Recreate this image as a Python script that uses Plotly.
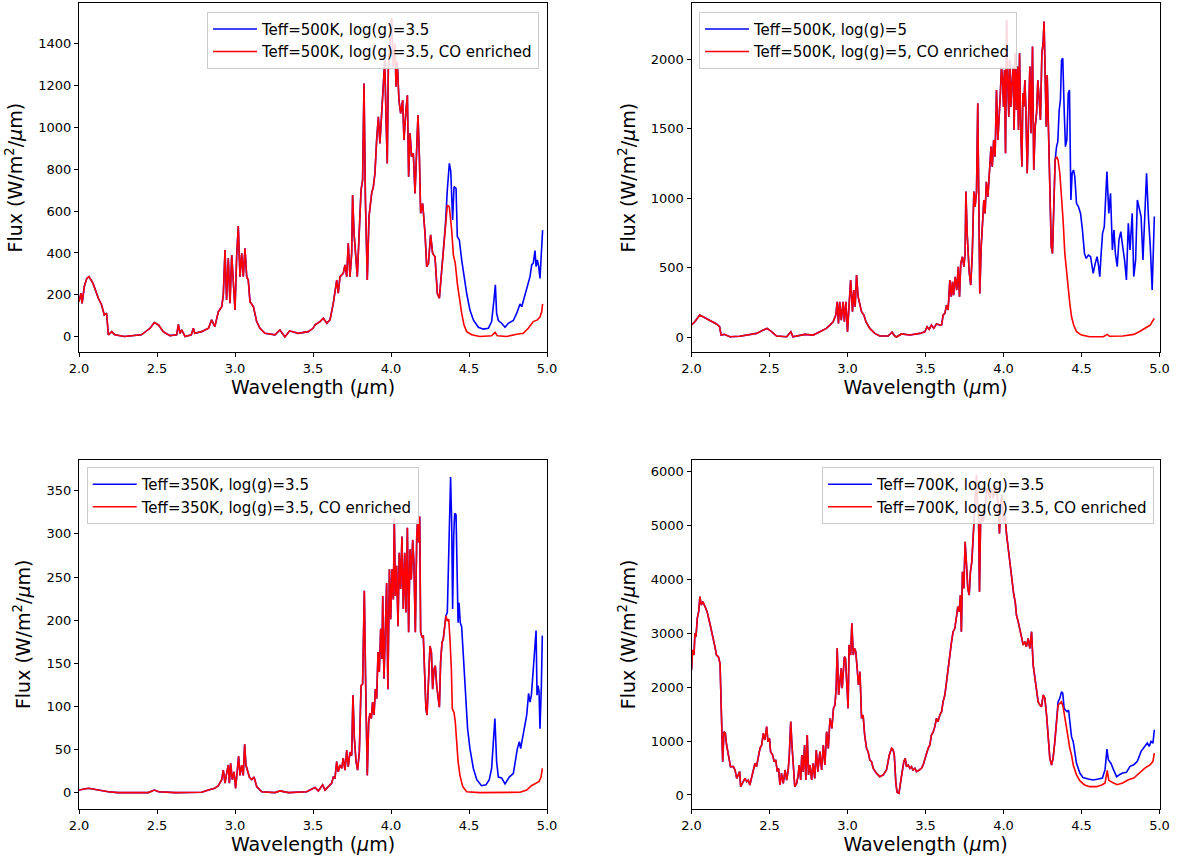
import plotly.graph_objects as go

# ---------------- Panel A: Teff=500K, log(g)=3.5 ----------------
wl_a = [2.000, 2.013, 2.020, 2.034, 2.050, 2.064, 2.090, 2.124, 2.145, 2.162, 2.177, 2.188, 2.210, 2.230,
        2.290, 2.400, 2.455, 2.483, 2.510, 2.540, 2.583, 2.626, 2.637, 2.647, 2.658, 2.680, 2.720, 2.733,
        2.742, 2.786, 2.830, 2.850, 2.871, 2.893, 2.915, 2.925, 2.936, 2.946, 2.957, 2.968, 2.979, 2.989,
        3.000, 3.011, 3.021, 3.032, 3.043, 3.053, 3.064, 3.075, 3.085, 3.096, 3.118, 3.139, 3.160, 3.192,
        3.256, 3.288, 3.310, 3.320, 3.350, 3.405, 3.470, 3.500, 3.513, 3.545, 3.566, 3.588, 3.609, 3.630,
        3.652, 3.662, 3.673, 3.694, 3.705, 3.716, 3.726, 3.737, 3.748, 3.754, 3.763, 3.776, 3.784, 3.797,
        3.808, 3.818, 3.827, 3.836, 3.848, 3.859, 3.870, 3.876, 3.887, 3.897, 3.908, 3.919, 3.929, 3.940,
        3.950, 3.960, 3.968, 3.976, 3.983, 3.994, 4.004, 4.015, 4.026, 4.032, 4.040, 4.051, 4.062, 4.075,
        4.083, 4.096, 4.105, 4.113, 4.122, 4.132, 4.143, 4.154, 4.165, 4.173, 4.182, 4.190, 4.203, 4.218,
        4.229, 4.240, 4.254, 4.267, 4.282, 4.297, 4.310, 4.323, 4.335, 4.348]
flux_a = [168, 208, 160, 240, 279, 287, 255, 184, 152, 105, 113, 10, 25, 10,
          2, 10, 41, 68, 57, 25, 6, 10, 60, 17, 33, 2, 10, 41,
          17, 25, 41, 81, 49, 120, 144, 200, 414, 176, 375, 160, 390, 240,
          128, 390, 528, 287, 398, 287, 422, 287, 271, 168, 144, 73, 41, 17,
          10, 33, 10, 0, 29, 17, 25, 41, 57, 73, 89, 65, 81, 160,
          271, 208, 287, 303, 343, 287, 446, 287, 398, 676, 494, 367, 287, 509,
          700, 747, 1208, 652, 271, 573, 652, 684, 716, 779, 938, 1049, 922, 1081,
          1192, 1319, 1049, 827, 1287, 1430, 1520, 1287, 1398, 1192, 1311, 1128, 1065, 1128,
          938, 1081, 1152, 763, 970, 859, 875, 684, 970, 1057, 859, 589, 636, 494,
          335, 351, 486, 398, 382, 208, 184, 303, 398, 525]
wl_a_base_tail = [4.361, 4.374, 4.383, 4.395, 4.404, 4.417, 4.425, 4.438, 4.453, 4.468, 4.485, 4.506, 4.528,
                  4.560, 4.592, 4.624, 4.645, 4.660, 4.669, 4.677, 4.688, 4.709, 4.731, 4.752, 4.784, 4.806,
                  4.827, 4.838, 4.853, 4.870, 4.891, 4.902, 4.912, 4.923, 4.930, 4.938, 4.947, 4.955, 4.964, 4.972]
flux_a_base_tail = [700, 827, 790, 557, 716, 708, 478, 462, 367, 287, 208, 128, 81,
                    46, 37, 41, 73, 176, 248, 113, 78, 65, 46, 65, 78, 113,
                    157, 144, 184, 240, 287, 343, 351, 411, 335, 367, 335, 279, 398, 509]
wl_a_co_tail = [4.361, 4.374, 4.389, 4.400, 4.412, 4.425, 4.438, 4.453, 4.468, 4.485, 4.517, 4.570, 4.645,
                4.667, 4.682, 4.741, 4.806, 4.848, 4.880, 4.912, 4.938, 4.955, 4.966, 4.972]
flux_a_co_tail = [628, 620, 509, 390, 351, 255, 176, 113, 57, 25, 10, 2, 5,
                  22, 5, 2, 13, 17, 41, 73, 81, 94, 121, 157]

# ---------------- Panel B: Teff=500K, log(g)=5 ----------------
wl_b = [2.000, 2.021, 2.053, 2.075, 2.118, 2.160, 2.180, 2.190, 2.210, 2.246, 2.310, 2.417, 2.460, 2.485,
        2.513, 2.545, 2.610, 2.637, 2.650, 2.726, 2.780, 2.820, 2.865, 2.887, 2.908, 2.925, 2.934, 2.942,
        2.950, 2.960, 2.972, 2.980, 2.990, 3.000, 3.010, 3.020, 3.032, 3.040, 3.049, 3.058, 3.068, 3.079,
        3.090, 3.105, 3.118, 3.143, 3.175, 3.207, 3.260, 3.286, 3.303, 3.314, 3.346, 3.400, 3.464, 3.496,
        3.510, 3.524, 3.538, 3.553, 3.570, 3.592, 3.603, 3.613, 3.624, 3.635, 3.645, 3.656, 3.665, 3.673,
        3.680, 3.690, 3.700, 3.710, 3.718, 3.726, 3.737, 3.746, 3.754, 3.759, 3.767, 3.780, 3.790, 3.800,
        3.810, 3.818, 3.827, 3.835, 3.842, 3.848, 3.857, 3.865, 3.874, 3.882, 3.890, 3.900, 3.912, 3.920,
        3.928, 3.937, 3.946, 3.955, 3.964, 3.972, 3.980, 3.987, 3.994, 4.000, 4.006, 4.013, 4.020, 4.026,
        4.034, 4.040, 4.047, 4.053, 4.062, 4.068, 4.075, 4.083, 4.090, 4.096, 4.103, 4.109, 4.118, 4.124,
        4.130, 4.137, 4.143, 4.152, 4.160, 4.169, 4.177, 4.186, 4.194, 4.203, 4.212, 4.220, 4.229, 4.237,
        4.246, 4.254, 4.260, 4.267, 4.274, 4.280, 4.288, 4.297, 4.306, 4.314, 4.323, 4.331]
flux_b = [86, 110, 158, 146, 122, 94, 74, 14, 19, 2, 5, 26, 50, 62,
          38, 7, 2, 38, 2, 19, 14, 38, 62, 86, 110, 158, 254, 98,
          254, 122, 254, 110, 254, 38, 218, 410, 182, 338, 218, 446, 290, 242,
          182, 158, 110, 62, 26, 7, 7, 34, 7, 0, 22, 14, 26, 38,
          74, 55, 86, 62, 94, 86, 86, 158, 170, 230, 194, 410, 290, 398,
          302, 434, 338, 506, 290, 530, 578, 506, 602, 1047, 746, 470, 374, 602,
          1047, 938, 1047, 1683, 1083, 314, 650, 866, 986, 890, 1118, 1010, 1275, 1371,
          1227, 1419, 1299, 1779, 1419, 1563, 1755, 1947, 1851, 1659, 1923, 1323, 2283, 1899,
          1587, 1995, 1659, 1803, 1947, 1491, 2043, 1635, 1947, 1491, 2043, 1563, 1227, 1755,
          1659, 1851, 1659, 1179, 1659, 1947, 1467, 2091, 1203, 1515, 1611, 1851, 1707, 1563,
          2043, 2115, 2271, 1947, 1515, 1887, 1467, 987, 650, 602, 939, 1275]
wl_b_base_tail = [4.340, 4.348, 4.357, 4.365, 4.372, 4.380, 4.389, 4.397, 4.406, 4.415, 4.423, 4.432, 4.440,
                  4.449, 4.457, 4.468, 4.480, 4.494, 4.506, 4.519, 4.530, 4.545, 4.558, 4.566, 4.575, 4.588,
                  4.600, 4.610, 4.617, 4.626, 4.635, 4.646, 4.663, 4.675, 4.686, 4.698, 4.708, 4.717, 4.729,
                  4.740, 4.752, 4.764, 4.776, 4.788, 4.800, 4.811, 4.825, 4.835, 4.847, 4.858, 4.870, 4.882,
                  4.894, 4.906, 4.917, 4.929, 4.941, 4.953, 4.960, 4.967]
flux_b_base_tail = [1371, 1407, 1635, 1707, 1995, 2007, 1635, 1371, 1419, 1755, 1779, 987, 1179,
                    1203, 1155, 963, 939, 890, 770, 602, 566, 590, 578, 530, 458, 530,
                    578, 506, 434, 602, 746, 795, 1191, 890, 1035, 627, 771, 603, 507,
                    699, 759, 651, 555, 411, 819, 627, 891, 435, 555, 987, 915, 867,
                    555, 891, 1179, 867, 651, 339, 603, 867]
wl_b_co_tail = [4.340, 4.350, 4.361, 4.372, 4.382, 4.393, 4.404, 4.415, 4.425, 4.436, 4.450, 4.468, 4.500,
                4.553, 4.640, 4.665, 4.680, 4.764, 4.835, 4.870, 4.906, 4.941, 4.953, 4.967]
flux_b_co_tail = [1299, 1275, 1179, 1035, 843, 602, 458, 338, 242, 146, 86, 38, 14,
                  2, 2, 19, 5, 7, 19, 38, 62, 86, 110, 134]

# ---------------- Panel C: Teff=350K, log(g)=3.5 ----------------
wl_c = [2.000, 2.060, 2.124, 2.188, 2.250, 2.444, 2.483, 2.510, 2.615, 2.786, 2.830, 2.870, 2.893, 2.915,
        2.925, 2.936, 2.946, 2.957, 2.964, 2.972, 2.983, 2.994, 3.004, 3.015, 3.023, 3.032, 3.043, 3.053,
        3.062, 3.070, 3.081, 3.092, 3.107, 3.122, 3.139, 3.171, 3.256, 3.288, 3.342, 3.460, 3.480, 3.513,
        3.534, 3.562, 3.577, 3.598, 3.620, 3.630, 3.641, 3.652, 3.662, 3.673, 3.684, 3.694, 3.705, 3.716,
        3.726, 3.737, 3.748, 3.756, 3.765, 3.776, 3.786, 3.797, 3.808, 3.818, 3.829, 3.838, 3.848, 3.857,
        3.865, 3.874, 3.882, 3.891, 3.900, 3.908, 3.917, 3.925, 3.934, 3.942, 3.947, 3.955, 3.964, 3.972,
        3.980, 3.990, 3.998, 4.006, 4.015, 4.021, 4.028, 4.036, 4.045, 4.053, 4.062, 4.070, 4.079, 4.088,
        4.096, 4.105, 4.113, 4.122, 4.130, 4.139, 4.147, 4.156, 4.165, 4.171, 4.177, 4.184, 4.190, 4.199,
        4.207, 4.216, 4.224, 4.231, 4.241, 4.250, 4.259, 4.267, 4.276, 4.284, 4.293, 4.303, 4.310, 4.318,
        4.327, 4.335, 4.344, 4.352]
flux_c = [3, 5, 3, 1, 0, 0, 3, 1, 0, 0.5, 3, 5, 8, 15,
          26, 11, 22, 32, 11, 34, 15, 24, 5, 26, 42, 20, 32, 20,
          56, 32, 26, 18, 15, 18, 7, 1, 0, 2, 0, 1, 3, 6,
          2, 9, 3, 7, 11, 18, 17, 36, 24, 32, 28, 40, 26, 49,
          30, 47, 43, 113, 63, 36, 26, 47, 124, 126, 234, 120, 20, 82,
          92, 86, 105, 90, 120, 109, 163, 140, 190, 155, 228, 132, 197, 243,
          120, 259, 201, 259, 224, 318, 228, 263, 193, 278, 236, 297, 213, 278,
          209, 307, 186, 282, 247, 293, 266, 186, 297, 317, 290, 320, 186, 180,
          182, 136, 97, 90, 128, 170, 163, 120, 143, 147, 124, 105, 99, 151,
          174, 178, 197, 205]
wl_c_base_tail = [4.361, 4.370, 4.376, 4.382, 4.389, 4.395, 4.402, 4.408, 4.417, 4.423, 4.430, 4.436, 4.444,
                  4.453, 4.464, 4.472, 4.481, 4.491, 4.506, 4.528, 4.550, 4.580, 4.609, 4.630, 4.645, 4.656,
                  4.666, 4.677, 4.688, 4.709, 4.731, 4.758, 4.784, 4.810, 4.823, 4.831, 4.848, 4.870, 4.882,
                  4.891, 4.900, 4.912, 4.921, 4.930, 4.936, 4.942, 4.949, 4.955, 4.964, 4.970]
flux_c_base_tail = [209, 293, 343, 366, 313, 213, 297, 324, 322, 263, 197, 220, 197,
                    192, 159, 140, 101, 74, 51, 28, 15, 8, 9, 15, 28, 55,
                    86, 36, 18, 17, 10, 18, 22, 51, 59, 51, 70, 90, 115,
                    105, 113, 143, 167, 188, 113, 124, 117, 74, 124, 182]
wl_c_co_tail = [4.361, 4.370, 4.378, 4.387, 4.393, 4.404, 4.412, 4.420, 4.430, 4.442, 4.460, 4.485, 4.570,
                4.827, 4.870, 4.900, 4.934, 4.950, 4.962, 4.970]
flux_c_co_tail = [199, 201, 178, 143, 97, 93, 82, 55, 36, 20, 7, 1, 0,
                  0.4, 3, 8, 11, 13, 18, 28]

# ---------------- Panel D: Teff=700K, log(g)=3.5 ----------------
wl_d = [2.000, 2.007, 2.016, 2.022, 2.029, 2.037, 2.046, 2.054, 2.063, 2.072, 2.087, 2.100, 2.120, 2.136,
        2.150, 2.160, 2.172, 2.183, 2.190, 2.200, 2.208, 2.217, 2.225, 2.238, 2.250, 2.268, 2.279, 2.290,
        2.300, 2.309, 2.315, 2.328, 2.343, 2.354, 2.364, 2.374, 2.385, 2.396, 2.407, 2.417, 2.428, 2.439,
        2.450, 2.460, 2.470, 2.482, 2.490, 2.500, 2.507, 2.520, 2.530, 2.540, 2.550, 2.558, 2.567, 2.577,
        2.588, 2.600, 2.610, 2.620, 2.627, 2.636, 2.644, 2.653, 2.662, 2.674, 2.684, 2.690, 2.700, 2.707,
        2.716, 2.725, 2.733, 2.742, 2.750, 2.760, 2.770, 2.780, 2.790, 2.800, 2.810, 2.823, 2.834, 2.845,
        2.855, 2.866, 2.877, 2.888, 2.900, 2.910, 2.920, 2.928, 2.934, 2.943, 2.952, 2.960, 2.966, 2.972,
        2.980, 2.987, 2.994, 3.004, 3.010, 3.020, 3.028, 3.037, 3.045, 3.053, 3.062, 3.070, 3.080, 3.090,
        3.100, 3.110, 3.122, 3.132, 3.143, 3.154, 3.165, 3.186, 3.207, 3.229, 3.250, 3.268, 3.283, 3.293,
        3.300, 3.310, 3.318, 3.330, 3.344, 3.353, 3.361, 3.370, 3.378, 3.389, 3.400, 3.410, 3.420, 3.432,
        3.442, 3.460, 3.474, 3.485, 3.496, 3.506, 3.517, 3.528, 3.538, 3.550, 3.560, 3.570, 3.580, 3.592,
        3.603, 3.613, 3.624, 3.635, 3.645, 3.656, 3.667, 3.677, 3.688, 3.700, 3.707, 3.716, 3.724, 3.730,
        3.737, 3.746, 3.754, 3.763, 3.771, 3.780, 3.788, 3.797, 3.805, 3.814, 3.820, 3.827, 3.833, 3.840,
        3.846, 3.853, 3.860, 3.870, 3.878, 3.887, 3.895, 3.904, 3.912, 3.923, 3.934, 3.944, 3.955, 3.966,
        3.974, 3.983, 3.990, 4.000, 4.009, 4.020, 4.030, 4.040, 4.050, 4.058, 4.066, 4.075, 4.083, 4.094,
        4.105, 4.115, 4.126, 4.137, 4.147, 4.158, 4.169, 4.180, 4.190, 4.200, 4.210, 4.222, 4.233, 4.244,
        4.254, 4.265, 4.276, 4.286, 4.297, 4.308, 4.318, 4.329, 4.340]
flux_d = [2320, 2691, 2598, 3000, 2938, 3279, 3402, 3681, 3526, 3588, 3495, 3402, 3155, 2969,
          2753, 2598, 2567, 2443, 1856, 619, 1175, 1144, 928, 711, 526, 526, 464, 309,
          371, 433, 155, 216, 309, 247, 278, 186, 340, 495, 588, 526, 711, 866,
          928, 1144, 1021, 1268, 990, 1052, 804, 742, 619, 650, 433, 495, 186, 402,
          216, 464, 278, 464, 742, 1361, 928, 526, 155, 216, 371, 557, 278, 742,
          433, 928, 278, 1113, 371, 557, 278, 588, 309, 835, 433, 804, 464, 928,
          557, 1175, 866, 1423, 1237, 1608, 1670, 2041, 2722, 1856, 2103, 2351, 1980, 2351,
          2567, 2536, 2041, 1608, 2784, 2598, 3186, 2598, 2722, 2660, 2351, 2041, 2289, 1423,
          1485, 1113, 866, 804, 650, 619, 495, 402, 340, 371, 464, 742, 866, 835,
          742, 216, 50, 31, 309, 526, 619, 680, 526, 557, 495, 526, 464, 495,
          433, 464, 495, 557, 680, 742, 866, 928, 1113, 1175, 1268, 1423, 1361, 1485,
          1546, 1732, 1856, 2103, 2351, 2660, 2846, 3031, 3093, 3340, 3495, 3402, 3712, 3031,
          4144, 3835, 4701, 4268, 3835, 3712, 4144, 4330, 4763, 5072, 5444, 5939, 5382, 5196,
          3773, 5072, 5196, 5072, 5258, 5505, 5691, 5629, 5505, 5691, 5505, 5753, 5691, 5382,
          4856, 5444, 5567, 5072, 5196, 4825, 4578, 4330, 4176, 3959, 3712, 3588, 3340, 3217,
          3031, 2938, 2784, 2846, 2753, 2907, 2722, 3031, 2413, 2227, 1980, 1732, 1670, 1639,
          1856, 1794, 1485, 990, 680, 557, 680, 990, 1423]
wl_d_base_tail = [4.350, 4.361, 4.372, 4.380, 4.389, 4.397, 4.408, 4.417, 4.425, 4.436, 4.447, 4.457, 4.468,
                  4.490, 4.510, 4.543, 4.575, 4.607, 4.634, 4.651, 4.663, 4.672, 4.690, 4.705, 4.725, 4.745,
                  4.764, 4.788, 4.811, 4.835, 4.858, 4.882, 4.906, 4.922, 4.934, 4.946, 4.958, 4.967]
flux_d_base_tail = [1730, 1794, 1918, 1887, 1608, 1577, 1546, 1577, 1361, 1083, 990, 742, 588,
                    402, 322, 297, 278, 297, 315, 470, 853, 655, 580, 470, 340, 380,
                    408, 420, 531, 562, 624, 810, 902, 964, 902, 995, 964, 1211]
wl_d_co_tail = [4.350, 4.361, 4.372, 4.382, 4.393, 4.404, 4.415, 4.425, 4.436, 4.447, 4.468, 4.490, 4.520,
                4.553, 4.596, 4.634, 4.651, 4.665, 4.675, 4.705, 4.729, 4.764, 4.800, 4.835, 4.870, 4.906,
                4.941, 4.958, 4.967]
flux_d_co_tail = [1670, 1701, 1732, 1639, 1423, 1175, 1052, 866, 742, 557, 371, 260, 186,
                  155, 155, 192, 222, 457, 272, 222, 192, 222, 284, 315, 408, 500,
                  562, 624, 779]

# ---------------- labels / ticks ----------------
labels_base = ["Teff=500K, log(g)=3.5", "Teff=500K, log(g)=5", "Teff=350K, log(g)=3.5", "Teff=700K, log(g)=3.5"]
labels_co = [s + ", CO enriched" for s in labels_base]
x_ticks = [2.0, 2.5, 3.0, 3.5, 4.0, 4.5, 5.0]
y_ticks_a = [0, 200, 400, 600, 800, 1000, 1200, 1400]
y_ticks_b = [0, 500, 1000, 1500, 2000]
y_ticks_c = [0, 50, 100, 150, 200, 250, 300, 350]
y_ticks_d = [0, 1000, 2000, 3000, 4000, 5000, 6000]
x_title = "Wavelength (<i>μ</i>m)"
y_title = "Flux (W/m<sup>2</sup>/<i>μ</i>m)"

W, H = 1178, 862
FONT = "DejaVu Sans"

panels = [
    dict(wl=wl_a, fl=flux_a, wb=wl_a_base_tail, fb=flux_a_base_tail, wc=wl_a_co_tail, fc=flux_a_co_tail,
         yt=y_ticks_a, yr=[-72, 1590], px=(79, 547), py=(3.3, 352)),
    dict(wl=wl_b, fl=flux_b, wb=wl_b_base_tail, fb=flux_b_base_tail, wc=wl_b_co_tail, fc=flux_b_co_tail,
         yt=y_ticks_b, yr=[-108, 2403], px=(691.5, 1159.5), py=(3.3, 352)),
    dict(wl=wl_c, fl=flux_c, wb=wl_c_base_tail, fb=flux_c_base_tail, wc=wl_c_co_tail, fc=flux_c_co_tail,
         yt=y_ticks_c, yr=[-19, 386], px=(79, 547), py=(459.7, 809)),
    dict(wl=wl_d, fl=flux_d, wb=wl_d_base_tail, fb=flux_d_base_tail, wc=wl_d_co_tail, fc=flux_d_co_tail,
         yt=y_ticks_d, yr=[-260, 6223], px=(691.5, 1159.5), py=(459.7, 809)),
]
legend_pos = [
    dict(x=539 / W, xanchor="right", y=1 - 11.7 / H),
    dict(x=699 / W, xanchor="left", y=1 - 11.7 / H),
    dict(x=86.7 / W, xanchor="left", y=1 - 467 / H),
    dict(x=1154 / W, xanchor="right", y=1 - 467 / H),
]

fig = go.Figure()
layout = dict(width=W, height=H, margin=dict(l=0, r=0, t=0, b=0),
              paper_bgcolor="white", plot_bgcolor="white",
              font=dict(family=FONT, color="black"), showlegend=True)

for i, p in enumerate(panels):
    sfx = "" if i == 0 else str(i + 1)
    lg = "legend" if i == 0 else "legend" + str(i + 1)
    fig.add_trace(go.Scatter(x=p["wl"] + p["wb"], y=p["fl"] + p["fb"], mode="lines",
                             line=dict(color="#0000ff", width=1.6), name=labels_base[i],
                             xaxis="x" + sfx, yaxis="y" + sfx, legend=lg))
    fig.add_trace(go.Scatter(x=p["wl"] + p["wc"], y=p["fl"] + p["fc"], mode="lines",
                             line=dict(color="#ff0000", width=1.6), name=labels_co[i],
                             xaxis="x" + sfx, yaxis="y" + sfx, legend=lg))
    x0, x1 = p["px"]
    y0, y1 = p["py"]
    axcommon = dict(showline=True, linecolor="black", linewidth=1, mirror=True, ticks="outside",
                    ticklen=4, tickwidth=1, tickcolor="black", showgrid=False, zeroline=False,
                    tickfont=dict(family=FONT, size=13, color="black"), automargin=False)
    layout["xaxis" + sfx] = dict(axcommon, domain=[x0 / W, x1 / W], range=[2, 5], tickvals=x_ticks,
                                 ticktext=[f"{v:.1f}" for v in x_ticks], anchor="y" + sfx,
                                 title=dict(text=x_title, font=dict(family=FONT, size=19, color="black"),
                                            standoff=6))
    layout["yaxis" + sfx] = dict(axcommon, domain=[1 - y1 / H, 1 - y0 / H], range=p["yr"],
                                 tickvals=p["yt"], ticktext=[str(v) for v in p["yt"]], anchor="x" + sfx,
                                 title=dict(text=y_title, font=dict(family=FONT, size=19, color="black"),
                                            standoff=10))
    layout[lg] = dict(legend_pos[i], yanchor="top", bgcolor="rgba(255,255,255,0.85)",
                      bordercolor="#cccccc", borderwidth=1, font=dict(family=FONT, size=15, color="black"),
                      tracegroupgap=0, itemwidth=44)

fig.update_layout(**layout)
fig.write_html("out.html")
